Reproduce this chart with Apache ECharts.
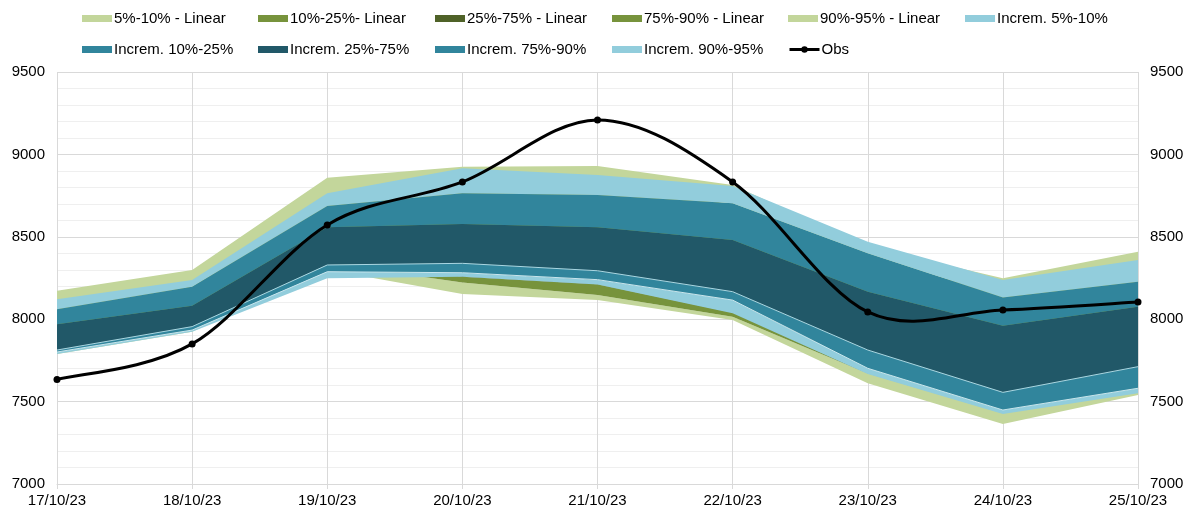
<!DOCTYPE html>
<html>
<head>
<meta charset="utf-8">
<script src="https://cdn.jsdelivr.net/npm/echarts@6/dist/echarts.min.js"></script>
<style>
  html, body { margin: 0; padding: 0; background: #fff; }
  #chart { width: 1197px; height: 515px; }
</style>
</head>
<body>
<div id="chart"></div>
<script>
// Forecast dates
const categories = ['17/10/23', '18/10/23', '19/10/23', '20/10/23', '21/10/23', '22/10/23', '23/10/23', '24/10/23', '25/10/23'];

// Linear method percentiles
const linP5  = [7789, 7924, 8300, 8153, 8117, 7995, 7611, 7364, 7540];
const linP10 = [7795, 7928, 8340, 8222, 8147, 8015, 7670, 7430, 7555];
const linP25 = [7810, 7945, 8380, 8258, 8212, 8040, 7750, 7520, 7680];
const linP75 = [7960, 8070, 8540, 8560, 8540, 8450, 8150, 7940, 8060];
const linP90 = [8080, 8200, 8700, 8800, 8800, 8700, 8380, 8150, 8250];
const linP95 = [8173, 8299, 8859, 8925, 8930, 8814, 8440, 8248, 8410];

// Incremental method percentiles
const incP5  = [7789, 7924, 8248, 8258, 8210, 8036, 7667, 7425, 7550];
const incP10 = [7801, 7934, 8288, 8282, 8240, 8116, 7702, 7449, 7581];
const incP25 = [7813, 7955, 8329, 8339, 8294, 8167, 7813, 7556, 7712];
const incP75 = [7969, 8082, 8558, 8578, 8558, 8481, 8167, 7960, 8076];
const incP90 = [8060, 8197, 8687, 8764, 8754, 8703, 8400, 8131, 8227];
const incP95 = [8121, 8238, 8764, 8916, 8875, 8808, 8470, 8238, 8359];

// Observed values
const obs = [7634, 7850, 8572, 8833, 9209, 8833, 8044, 8056, 8104];

// Y axis range and tick step
const yMin = 7000, yMax = 9500, yStep = 500;

const FONT = 'Liberation Sans, Arial, sans-serif';
const C = {
  lightGreen: '#C3D69B', olive: '#77933C', darkOlive: '#4F6228',
  lightBlue: '#92CDDC', teal: '#31859C', darkTeal: '#215868'
};

const diff = (hi, lo) => hi.map((v, i) => +(v - lo[i]).toFixed(2));

function base(stack, values) {
  return {
    name: stack + '-base', type: 'line', stack: stack, data: values,
    symbol: 'none', lineStyle: { width: 0, opacity: 0 }, areaStyle: { opacity: 0 },
    silent: true, z: 2
  };
}
function band(name, stack, values, color, border) {
  return {
    name: name, type: 'line', stack: stack, data: values, symbol: 'none',
    color: color,
    itemStyle: { color: color },
    lineStyle: border ? { width: 1, color: border } : { width: 0, opacity: 0 },
    areaStyle: { color: color, opacity: 1 },
    z: 2
  };
}

// Smooth observation curve: cubic Bezier segments with Catmull-Rom control points
function renderObsSegment(params, api) {
  const i = params.dataIndex;
  if (i >= obs.length - 1) return null;
  const clampIdx = k => Math.max(0, Math.min(obs.length - 1, k));
  const p = k => api.coord([clampIdx(k), obs[clampIdx(k)]]);
  const p0 = p(i - 1), p1 = p(i), p2 = p(i + 1), p3 = p(i + 2);
  return {
    type: 'bezierCurve',
    shape: {
      x1: p1[0], y1: p1[1], x2: p2[0], y2: p2[1],
      cpx1: p1[0] + (p2[0] - p0[0]) / 6, cpy1: p1[1] + (p2[1] - p0[1]) / 6,
      cpx2: p2[0] - (p3[0] - p1[0]) / 6, cpy2: p2[1] - (p3[1] - p1[1]) / 6
    },
    style: { stroke: '#000', lineWidth: 3, fill: null }
  };
}

const series = [
  base('lin', linP5),
  band('5%-10% - Linear', 'lin', diff(linP10, linP5), C.lightGreen),
  band('10%-25%- Linear', 'lin', diff(linP25, linP10), C.olive),
  band('25%-75% - Linear', 'lin', diff(linP75, linP25), C.darkOlive),
  band('75%-90% - Linear', 'lin', diff(linP90, linP75), C.olive),
  band('90%-95% - Linear', 'lin', diff(linP95, linP90), C.lightGreen),
  base('inc', incP5),
  band('Increm. 5%-10%', 'inc', diff(incP10, incP5), C.lightBlue, '#c8e6ef'),
  band('Increm. 10%-25%', 'inc', diff(incP25, incP10), C.teal, '#a9d7e4'),
  band('Increm. 25%-75%', 'inc', diff(incP75, incP25), C.darkTeal),
  band('Increm. 75%-90%', 'inc', diff(incP90, incP75), C.teal),
  band('Increm. 90%-95%', 'inc', diff(incP95, incP90), C.lightBlue),
  {
    name: 'obs-curve', type: 'custom', data: obs.map((v, i) => [i, v]),
    renderItem: renderObsSegment, silent: true, z: 4, clip: true
  },
  {
    name: 'Obs', type: 'line', data: obs,
    symbol: 'circle', symbolSize: 7, color: '#000',
    itemStyle: { color: '#000' }, lineStyle: { color: '#000', width: 3, opacity: 0 }, z: 5
  }
];

// Legend entries, two rows with fixed column positions
const legendRows = [
  ['5%-10% - Linear', '10%-25%- Linear', '25%-75% - Linear', '75%-90% - Linear', '90%-95% - Linear', 'Increm. 5%-10%'],
  ['Increm. 10%-25%', 'Increm. 25%-75%', 'Increm. 75%-90%', 'Increm. 90%-95%', 'Obs']
];
const legendCols = [82, 258, 435, 612, 788, 965];
const legendTops = [11, 42];

const legends = [];
legendRows.forEach((row, r) => {
  row.forEach((name, c) => {
    const item = name === 'Obs'
      ? { name: name, itemStyle: { color: '#000' }, lineStyle: { color: '#000', width: 3, opacity: 1 } }
      : { name: name, icon: 'rect' };
    legends.push({
      left: legendCols[c], top: legendTops[r], padding: 0,
      itemWidth: 30, itemHeight: name === 'Obs' ? 8 : 7,
      selectedMode: false,
      textStyle: { fontFamily: FONT, fontSize: 15, color: '#000', padding: [0, 0, 0, -3] },
      data: [item]
    });
  });
});

const axisLabel = { fontFamily: FONT, fontSize: 15, color: '#000', formatter: v => String(v) };

const option = {
  animation: false,
  backgroundColor: '#fff',
  legend: legends,
  grid: { left: 57, right: 59, top: 72, bottom: 31, containLabel: false },
  xAxis: {
    type: 'category', data: categories, boundaryGap: false,
    axisLine: { lineStyle: { color: '#d9d9d9', width: 1 } },
    axisTick: { show: true, length: 5, alignWithLabel: true, lineStyle: { color: '#d9d9d9' } },
    axisLabel: { fontFamily: FONT, fontSize: 15, color: '#000', margin: 9, interval: 0 },
    splitLine: { show: true, lineStyle: { color: '#d9d9d9', width: 1 } }
  },
  yAxis: [
    {
      type: 'value', min: yMin, max: yMax, interval: yStep,
      axisLine: { show: false }, axisTick: { show: false },
      axisLabel: Object.assign({ margin: 12 }, axisLabel),
      splitLine: { show: true, lineStyle: { color: '#d9d9d9', width: 1 } },
      minorTick: { show: false, splitNumber: 5 },
      minorSplitLine: { show: true, lineStyle: { color: '#efefef', width: 1 } }
    },
    {
      type: 'value', min: yMin, max: yMax, interval: yStep, position: 'right',
      axisLine: { show: false }, axisTick: { show: false },
      axisLabel: Object.assign({ margin: 12 }, axisLabel),
      splitLine: { show: false }
    }
  ],
  series: series
};

const chart = echarts.init(document.getElementById('chart'), null, { renderer: 'canvas' });
chart.setOption(option);
</script>
</body>
</html>
